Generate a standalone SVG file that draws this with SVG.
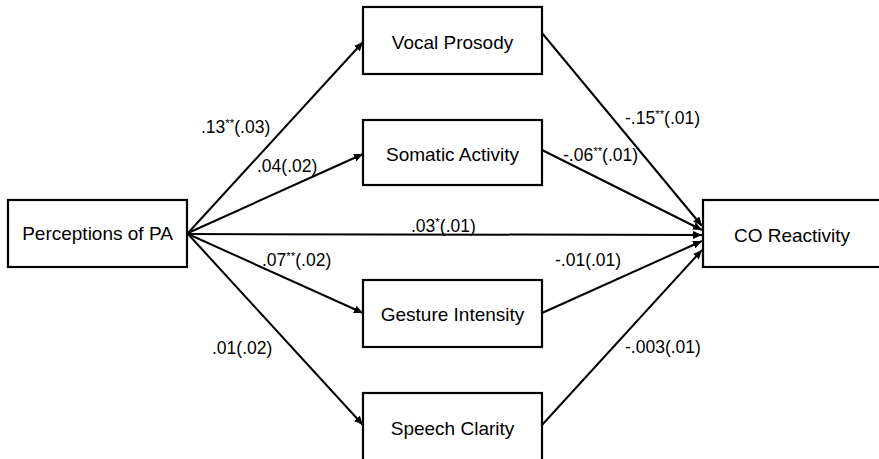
<svg xmlns="http://www.w3.org/2000/svg" width="879" height="459" viewBox="0 0 879 459">
<style>
.box{fill:#fff;stroke:#000;stroke-width:2.2}
.nt{font-family:"Liberation Sans",Arial,sans-serif;font-size:19px;fill:#000;text-anchor:middle;dominant-baseline:central}
.lb{font-family:"Liberation Sans",Arial,sans-serif;font-size:17.5px;fill:#000}
.ar{stroke:#000;stroke-width:2;fill:none;marker-end:url(#ah)}
</style>
<defs>
<marker id="ah" markerUnits="userSpaceOnUse" markerWidth="10" markerHeight="8" refX="9" refY="4" orient="auto">
<path d="M0,0 L9,4 L0,8 z" fill="#000"/>
</marker>
</defs>
<rect width="879" height="459" fill="#fff"/>
<g id="connectors">
<line class="ar" x1="188" y1="233" x2="363" y2="42"/>
<line class="ar" x1="188" y1="233" x2="363" y2="154"/>
<line class="ar" x1="188" y1="234" x2="702" y2="235"/>
<line class="ar" x1="188" y1="234" x2="363" y2="313"/>
<line class="ar" x1="188" y1="234" x2="363" y2="425"/>
<line class="ar" x1="542" y1="33" x2="702" y2="226"/>
<line class="ar" x1="542" y1="150" x2="702" y2="230"/>
<line class="ar" x1="542" y1="313" x2="702" y2="241"/>
<line class="ar" x1="542" y1="425" x2="702" y2="250"/>
</g>
<g id="labels">
<text class="lb" x="201" y="133">.13<tspan dy="-6" font-size="11.5">**</tspan><tspan dy="6">(.03)</tspan></text>
<text class="lb" x="257" y="172">.04(.02)</text>
<text class="lb" x="411" y="232">.03<tspan dy="-6" font-size="11.5">*</tspan><tspan dy="6">(.01)</tspan></text>
<text class="lb" x="262" y="266">.07<tspan dy="-6" font-size="11.5">**</tspan><tspan dy="6">(.02)</tspan></text>
<text class="lb" x="212" y="354">.01(.02)</text>
<text class="lb" x="625" y="124">-.15<tspan dy="-6" font-size="11.5">**</tspan><tspan dy="6">(.01)</tspan></text>
<text class="lb" x="563" y="161">-.06<tspan dy="-6" font-size="11.5">**</tspan><tspan dy="6">(.01)</tspan></text>
<text class="lb" x="555" y="266">-.01(.01)</text>
<text class="lb" x="625" y="353">-.003(.01)</text>
</g>
<g id="perceptions">
<rect class="box" x="8" y="200" width="179" height="67"/>
<text class="nt" x="97.5" y="233">Perceptions of PA</text>
</g>
<g id="vocal">
<rect class="box" x="363" y="7" width="179" height="67"/>
<text class="nt" x="452.5" y="42">Vocal Prosody</text>
</g>
<g id="somatic">
<rect class="box" x="363" y="120" width="179" height="65"/>
<text class="nt" x="452.5" y="154">Somatic Activity</text>
</g>
<g id="gesture">
<rect class="box" x="363" y="280" width="179" height="67"/>
<text class="nt" x="452.5" y="314">Gesture Intensity</text>
</g>
<g id="speech">
<rect class="box" x="363" y="393" width="179" height="68"/>
<text class="nt" x="452.5" y="428">Speech Clarity</text>
</g>
<g id="co">
<rect class="box" x="703" y="200" width="185" height="67"/>
<text class="nt" x="792" y="235">CO Reactivity</text>
</g>
</svg>
